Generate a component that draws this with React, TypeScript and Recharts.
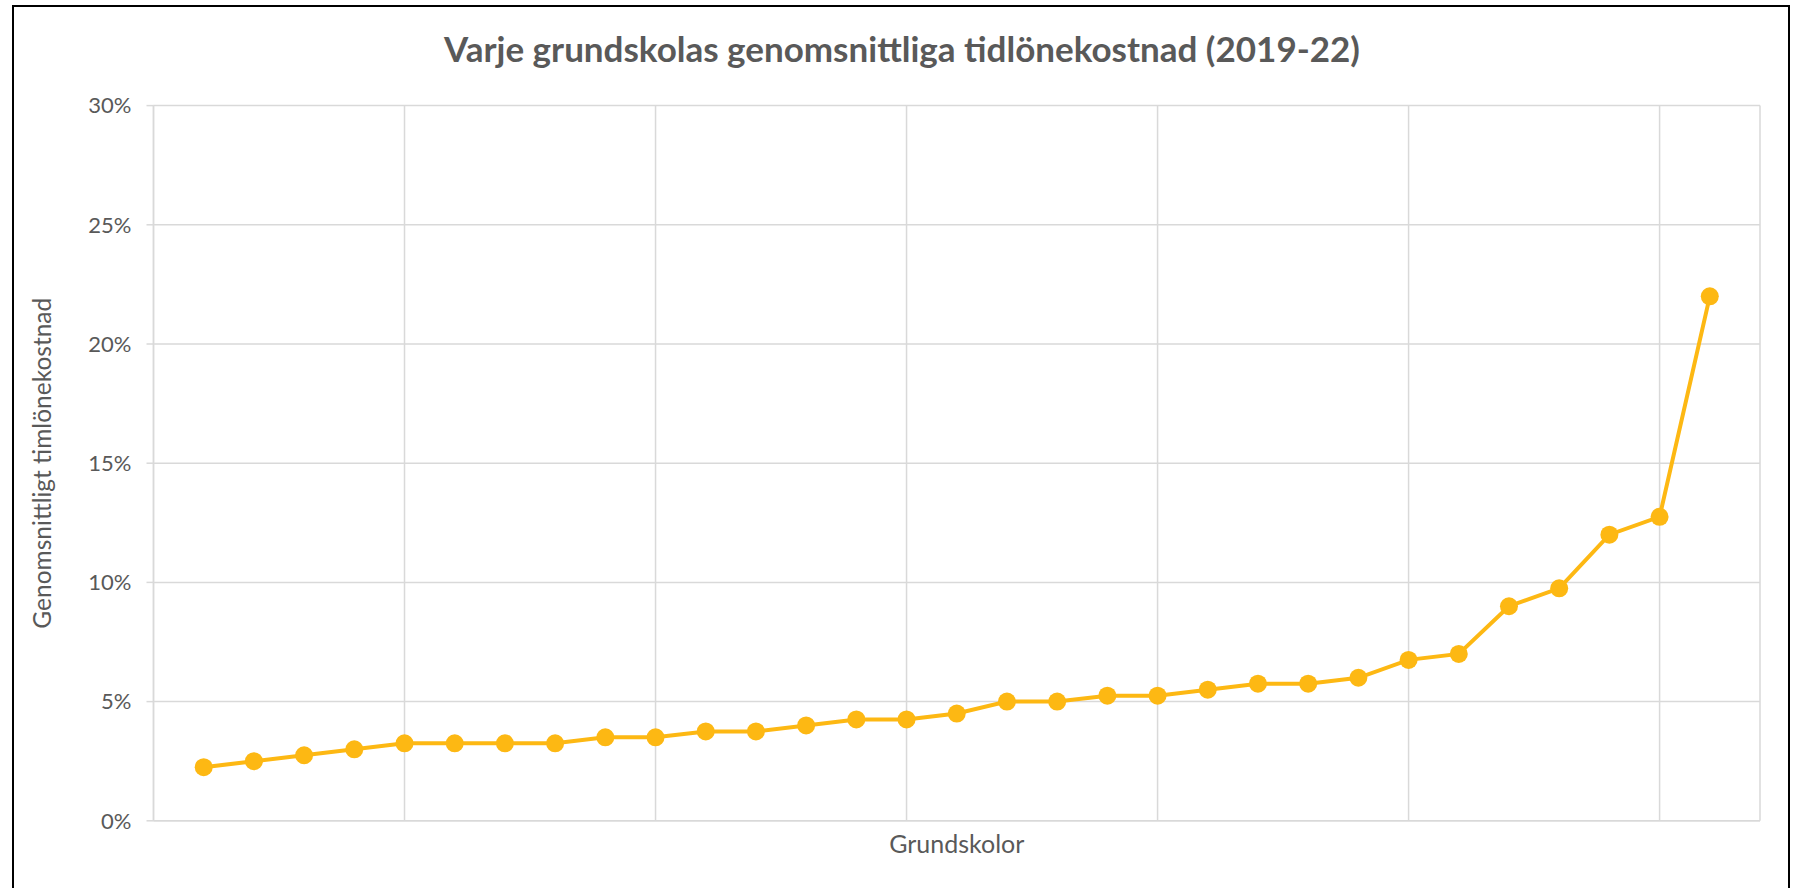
import React from 'react';
import { LineChart, Line, XAxis, YAxis, CartesianGrid, Label } from 'recharts';

const TITLE = 'Varje grundskolas genomsnittliga tidlönekostnad (2019-22)';
const X_TITLE = 'Grundskolor';
const Y_TITLE = 'Genomsnittligt timlönekostnad';

// schools ranked 1..31
const schools = [1, 2, 3, 4, 5, 6, 7, 8, 9, 10, 11, 12, 13, 14, 15, 16, 17, 18, 19, 20, 21, 22, 23, 24, 25, 26, 27, 28, 29, 30, 31];
// average hourly wage cost share (%)
const costPct = [2.25, 2.5, 2.75, 3.0, 3.25, 3.25, 3.25, 3.25, 3.5, 3.5, 3.75, 3.75, 4.0, 4.25, 4.25, 4.5, 5.0, 5.0, 5.25, 5.25, 5.5, 5.75, 5.75, 6.0, 6.75, 7.0, 9.0, 9.75, 12.0, 12.75, 22.0];
const yTicks = [0, 5, 10, 15, 20, 25, 30];
const xTicks = [0, 5, 10, 15, 20, 25, 30];

const data = schools.map((s, i) => ({ x: s, v: costPct[i] }));

const FONT = 'Lato, "Open Sans", sans-serif';
const TEXT = '#595959';
const GRID = '#d9d9d9';
const LINE = '#FDB813';

export default function App() {
  return (
    <div style={{ position: 'absolute', left: 0, top: 0, width: 1800, height: 888, background: '#fff', overflow: 'hidden' }}>
      <div style={{ position: 'absolute', left: 12, top: 5, width: 1778, height: 900, border: '2px solid #000', boxSizing: 'border-box' }} />
      <div style={{ position: 'absolute', left: 15, top: 28, width: 1774, textAlign: 'center', fontFamily: FONT, fontWeight: 700, fontSize: 35, color: TEXT, lineHeight: '40px' }}>
        {TITLE}
      </div>
      <div style={{ position: 'absolute', left: 0, top: 0 }}>
        <LineChart width={1800} height={888} data={data} margin={{ top: 105.6, right: 40, left: 0, bottom: 27.2 }}>
          <CartesianGrid stroke={GRID} strokeWidth={1.5} />
          <XAxis
            type="number"
            dataKey="x"
            domain={[0, 32]}
            ticks={xTicks}
            tickFormatter={() => ''}
            tickLine={false}
            axisLine={{ stroke: GRID, strokeWidth: 1.5 }}
            height={40}
          >
            <Label value={X_TITLE} position="insideBottom" offset={8} style={{ fontFamily: FONT, fontSize: 25, fill: TEXT }} />
          </XAxis>
          <YAxis
            type="number"
            domain={[0, 30]}
            ticks={yTicks}
            width={153.5}
            tickFormatter={(v: number) => `${v}%`}
            tick={{ fontFamily: FONT, fontSize: 22, fill: TEXT }}
            tickLine={{ stroke: GRID, strokeWidth: 1.5 }}
            tickSize={7}
            tickMargin={15}
            axisLine={{ stroke: GRID, strokeWidth: 1.5 }}
          >
            <Label value={Y_TITLE} angle={-90} position="insideLeft" offset={42} style={{ fontFamily: FONT, fontSize: 24.5, fill: TEXT, textAnchor: 'middle' }} />
          </YAxis>
          <Line
            type="linear"
            dataKey="v"
            stroke={LINE}
            strokeWidth={4}
            dot={{ r: 9, fill: LINE, stroke: 'none' }}
            activeDot={false}
            isAnimationActive={false}
          />
        </LineChart>
      </div>
    </div>
  );
}
